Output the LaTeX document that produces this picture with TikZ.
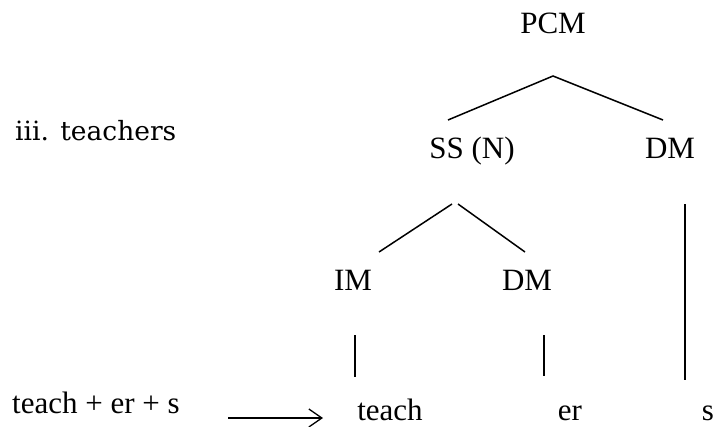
\documentclass[tikz,border=0pt]{standalone}
\usepackage{fontspec}
\setmainfont{Liberation Serif}
\newfontfamily\labelfont{DejaVu Serif}
\usetikzlibrary{arrows.meta}
\begin{document}
\begin{tikzpicture}[x=1pt,y=-1pt,
  lbl/.style={anchor=base,inner sep=0pt,font=\fontsize{31}{37}\selectfont},
  branch/.style={line width=1.5pt},
  maparrow/.style={line width=1.3pt,-{Straight Barb[length=13pt,width=18pt,line width=1.3pt]}}]
\useasboundingbox (0,0) rectangle (728,426);

% tree labels
\node[lbl] (pcm) at (553,33) {PCM};
\node[lbl] (ss) at (472,158) {SS (N)};
\node[lbl] (dmtop) at (670,158) {DM};
\node[lbl] (im) at (353,290) {IM};
\node[lbl] (dmlow) at (527,290) {DM};
\node[lbl] (teach) at (390,420) {teach};
\node[lbl] (er) at (570,420) {er};
\node[lbl] (s) at (708,420) {s};

% example heading and input string
\node[anchor=base west,inner sep=0pt,font=\labelfont\fontsize{26.5}{32}\selectfont] (title) at (15,140) {iii. teachers};
\node[lbl,anchor=base west] (input) at (12,413) {teach + er + s};

% branch end points
\coordinate (pcmapex) at (553,76);
\coordinate (pcmleft) at (448,120);
\coordinate (pcmright) at (663,120);
\coordinate (ssapexl) at (452,204);
\coordinate (ssapexr) at (458,204);
\coordinate (ssleft) at (379,252);
\coordinate (ssright) at (525,252);
\coordinate (imtop) at (355,335);
\coordinate (imbot) at (355,377);
\coordinate (dmtopend) at (544,335);
\coordinate (dmbot) at (544,376);
\coordinate (sline) at (685,204);
\coordinate (sbot) at (685,380);
\coordinate (arrstart) at (228,418);
\coordinate (arrend) at (323,418);

% branches
\draw[branch] (pcmleft) -- (pcmapex) -- (pcmright);
\draw[branch] (ssapexl) -- (ssleft);
\draw[branch] (ssapexr) -- (ssright);
\draw[branch] (imtop) -- (imbot);
\draw[branch] (dmtopend) -- (dmbot);
\draw[branch] (sline) -- (sbot);

% mapping arrow
\draw[maparrow] (arrstart) -- (arrend);
\end{tikzpicture}
\end{document}
